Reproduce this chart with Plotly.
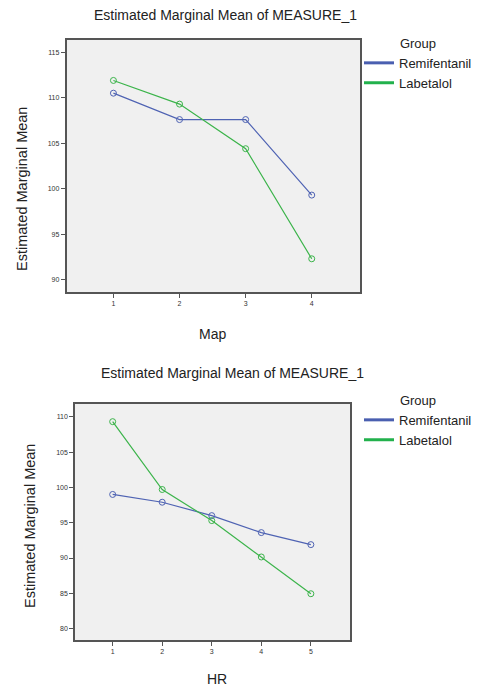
import plotly.graph_objects as go

# page body has an 8px default margin: the figure is drawn 8px in from the top-left
OFF = 8
W, H = 482 - OFF, 688 - OFF

groups = ["Remifentanil", "Labetalol"]
colors = ["#4f63b3", "#3cb44b"]
legend_colors = ["#4a5fb0", "#22b14c"]

map_levels = [1, 2, 3, 4]
map_remi = [110.5, 107.6, 107.6, 99.3]
map_labe = [111.9, 109.3, 104.4, 92.3]

hr_levels = [1, 2, 3, 4, 5]
hr_remi = [99.0, 97.9, 96.0, 93.6, 91.9]
hr_labe = [109.3, 99.7, 95.3, 90.15, 84.95]

y_ticks_top = [90, 95, 100, 105, 110, 115]
y_ticks_bot = [80, 85, 90, 95, 100, 105, 110]

title_text = "Estimated Marginal Mean of MEASURE_1"
ytitle = "Estimated Marginal Mean"

def px(x):
    return (x - OFF) / W

def py(y):
    return 1 - (y - OFF) / H

fig = go.Figure()

panels = [
    (map_levels, [map_remi, map_labe], "x", "y", "legend"),
    (hr_levels, [hr_remi, hr_labe], "x2", "y2", "legend2"),
]
for xs, series, xa, ya, lg in panels:
    for name, vals, c, lc in zip(groups, series, colors, legend_colors):
        fig.add_trace(go.Scatter(
            x=xs, y=vals, mode="lines+markers", xaxis=xa, yaxis=ya,
            line=dict(color=c, width=1.2),
            marker=dict(symbol="circle-open", size=6, color=c, line=dict(width=1)),
            showlegend=False, hoverinfo="skip"))
        fig.add_trace(go.Scatter(
            x=[None], y=[None], mode="lines", xaxis=xa, yaxis=ya,
            line=dict(color=lc, width=3), name=name, legend=lg, showlegend=True))

axis_common = dict(
    showgrid=False, zeroline=False, showline=True, mirror=True,
    linecolor="#555555", linewidth=1.5, ticks="outside", ticklen=4,
    tickcolor="#555555", tickwidth=1,
    tickfont=dict(family="Liberation Sans, Arial", size=7, color="#333333"),
)

leg_common = dict(xanchor="left", yanchor="top", bgcolor="rgba(0,0,0,0)",
                  itemwidth=30, tracegroupgap=0,
                  font=dict(size=13, color="#222222"),
                  title=dict(text="Group", side="top center", font=dict(size=13)))

fig.update_layout(
    width=W, height=H,
    margin=dict(l=0, r=0, t=0, b=0),
    paper_bgcolor="white",
    plot_bgcolor="#f0f0f0",
    font=dict(family="Liberation Sans, Arial", color="#222222"),
    xaxis=dict(domain=[px(66.5), px(360)], range=[0.29, 4.73],
               tickvals=map_levels, anchor="y", **axis_common),
    yaxis=dict(domain=[py(292), py(39.5)], range=[88.65, 116.4],
               tickvals=y_ticks_top, anchor="x", **axis_common),
    xaxis2=dict(domain=[px(75), px(350)], range=[0.24, 5.79],
                tickvals=hr_levels, anchor="y2", **axis_common),
    yaxis2=dict(domain=[py(640), py(404)], range=[78.4, 111.8],
                tickvals=y_ticks_bot, anchor="x2", **axis_common),
    legend=dict(x=px(359), y=py(31), **leg_common),
    legend2=dict(x=px(359), y=py(388), **leg_common),
)

annots = [
    dict(text=title_text, x=px(225), y=py(15), size=14, angle=0),
    dict(text=title_text, x=px(232), y=py(373), size=14, angle=0),
    dict(text=ytitle, x=px(22), y=py(189), size=14.5, angle=-90),
    dict(text=ytitle, x=px(30), y=py(526), size=14.5, angle=-90),
    dict(text="Map", x=px(212), y=py(334), size=14, angle=0),
    dict(text="HR", x=px(217), y=py(679), size=14, angle=0),
]
for a in annots:
    fig.add_annotation(text=a["text"], x=a["x"], y=a["y"], xref="paper", yref="paper",
                       xanchor="center", yanchor="middle", showarrow=False,
                       textangle=a["angle"], font=dict(size=a["size"], color="#222222"))

fig.write_html("out.html")
